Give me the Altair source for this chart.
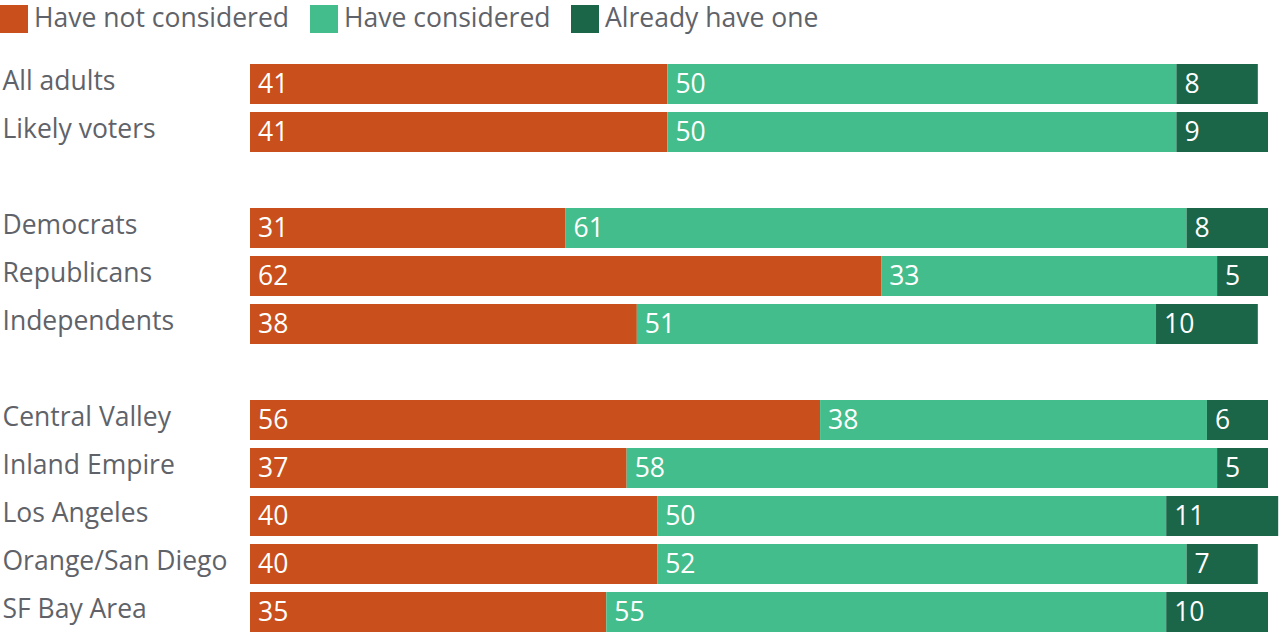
import altair as alt
import pandas as pd

# Survey groups (top to bottom); "_gap" rows are spacers between blocks
groups = ["All adults", "Likely voters", "_gap1",
          "Democrats", "Republicans", "Independents", "_gap2",
          "Central Valley", "Inland Empire", "Los Angeles",
          "Orange/San Diego", "SF Bay Area"]

responses = ["Have not considered", "Have considered", "Already have one"]
colors = ["#C94F1C", "#44BD8C", "#1B6549"]

respondents = ["All adults", "Likely voters", "Democrats", "Republicans",
               "Independents", "Central Valley", "Inland Empire",
               "Los Angeles", "Orange/San Diego", "SF Bay Area"]
not_considered = [41, 41, 31, 62, 38, 56, 37, 40, 40, 35]
considered = [50, 50, 61, 33, 51, 38, 58, 50, 52, 55]
already_have = [8, 9, 8, 5, 10, 6, 5, 11, 7, 10]

rows = []
for i, g in enumerate(respondents):
    for k, (resp, vals) in enumerate(zip(responses,
                                         [not_considered, considered, already_have])):
        rows.append({"group": g, "response": resp, "order": k, "value": vals[i]})
df = pd.DataFrame(rows)

FONT = "Open Sans"
FS = 26.5
GRAY = "#5F6369"

base = alt.Chart(df).transform_stack(
    stack="value",
    groupby=["group"],
    sort=[alt.SortField("order", order="ascending")],
    as_=["x0", "x1"],
)

y_scale = alt.Scale(domain=groups, paddingInner=8 / 48, paddingOuter=0)

y_enc = alt.Y(
    "group:N",
    scale=y_scale,
    axis=alt.Axis(
        title=None, domain=False, ticks=False, labelAlign="left",
        labelPadding=248, labelFontSize=FS, labelFont=FONT, labelColor=GRAY,
        labelOffset=-2, labelLimit=0,
        labelExpr="indexof(datum.label, '_') == 0 ? '' : datum.label",
    ),
)

bars = base.mark_bar().encode(
    x=alt.X("x0:Q", scale=alt.Scale(domain=[0, 100], nice=False), axis=None),
    x2="x1:Q",
    y=y_enc,
    color=alt.Color(
        "response:N",
        scale=alt.Scale(domain=responses, range=colors),
        legend=alt.Legend(
            title=None, orient="none", direction="horizontal",
            legendX=-250, legendY=-59, symbolType="square", symbolSize=784,
            symbolStrokeWidth=0, symbolOpacity=1, labelFontSize=FS,
            labelFont=FONT, labelColor=GRAY, labelOffset=6,
            columnPadding=20, padding=0, labelLimit=0,
        ),
    ),
    order=alt.Order("order:Q"),
)

labels = base.mark_text(
    align="left", baseline="middle", dx=8, dy=1,
    fontSize=FS, font=FONT, color="white",
).encode(
    x="x0:Q",
    y=alt.Y("group:N", scale=y_scale),
    text="value:Q",
)

chart = (
    alt.layer(bars, labels)
    .properties(width=1018, height=568, background="white",
                padding={"left": 0, "top": 5, "right": 0, "bottom": 0})
    .configure_view(stroke=None)
)

chart.save("out.html", embed_options={"renderer": "svg", "actions": False})
